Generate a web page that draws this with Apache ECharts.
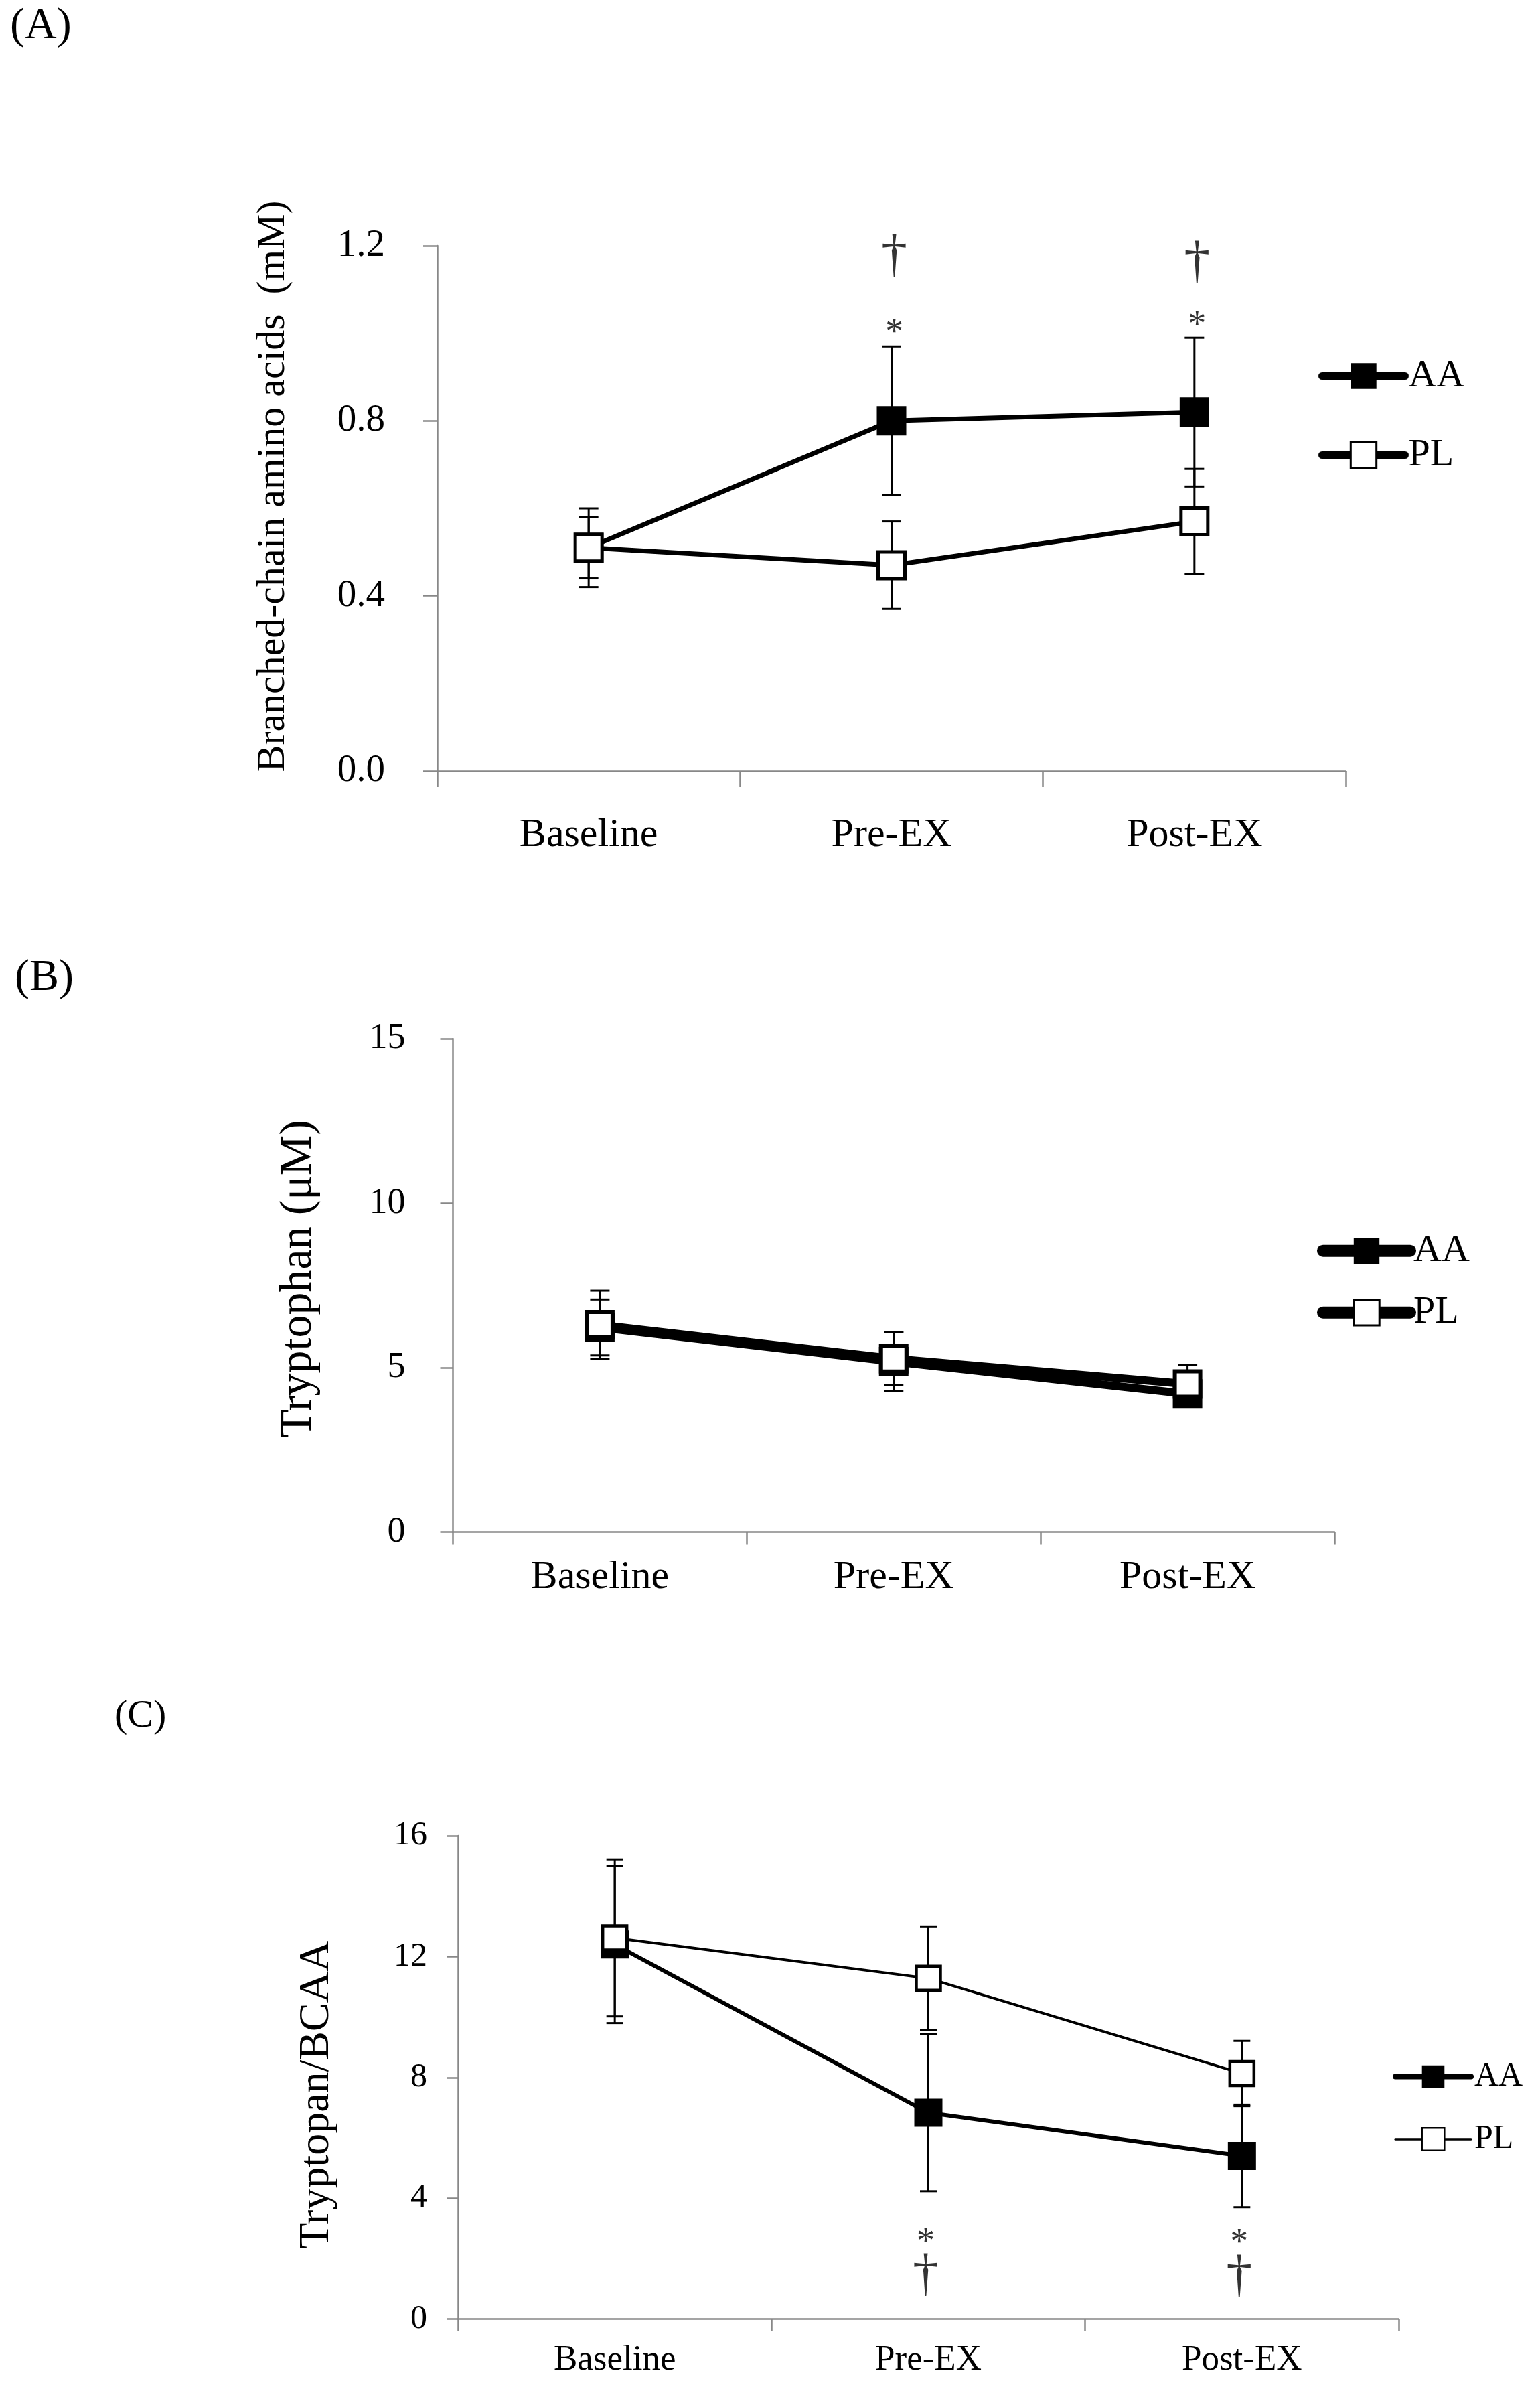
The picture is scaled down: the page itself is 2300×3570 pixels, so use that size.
<!DOCTYPE html>
<html>
<head>
<meta charset="utf-8">
<script src="https://cdn.jsdelivr.net/npm/echarts@6/dist/echarts.min.js"></script>
<style>
  html, body { margin: 0; padding: 0; background: #fff; }
  #chart { width: 2300px; height: 3570px; }
</style>
</head>
<body>
<div id="chart"></div>
<script>
const categories = ['Baseline', 'Pre-EX', 'Post-EX'];

// (A) branched-chain amino acids, mM
const bcaaAA = [0.51, 0.80, 0.82];
const bcaaAAErr = [0.09, 0.17, 0.17];
const bcaaPL = [0.51, 0.47, 0.57];
const bcaaPLErr = [0.07, 0.10, 0.12];

// (B) tryptophan, uM
const trpAA = [6.22, 5.18, 4.20];
const trpAAErr = [0.85, 0.90, 0.30];
const trpPL = [6.30, 5.27, 4.50];
const trpPLErr = [1.04, 0.80, 0.58];

// (C) tryptophan / BCAA
const ratioAA = [12.40, 6.83, 5.40];
const ratioAAErr = [2.60, 2.60, 1.70];
const ratioPL = [12.62, 11.28, 8.13];
const ratioPLErr = [2.60, 1.72, 1.08];

// significance marks: [category, value, symbol]
const sigA = [['Pre-EX', 1.174, '†'], ['Pre-EX', 1.0, '*'], ['Post-EX', 1.159, '†'], ['Post-EX', 1.017, '*']];
const sigC = [['Pre-EX', 2.53, '*'], ['Pre-EX', 1.43, '†'], ['Post-EX', 2.50, '*'], ['Post-EX', 1.37, '†']];

const serif = '"Liberation Serif", "Times New Roman", serif';
const axisGray = '#888888';

function errorBars(idx, means, errs, cap) {
  return {
    type: 'custom',
    xAxisIndex: idx,
    yAxisIndex: idx,
    z: 1,
    silent: true,
    encode: { x: 0, y: [1, 2] },
    data: means.map((m, i) => [i, m - errs[i], m + errs[i]]),
    renderItem: (params, api) => {
      const lo = api.coord([api.value(0), api.value(1)]);
      const hi = api.coord([api.value(0), api.value(2)]);
      const st = { stroke: '#000', lineWidth: 3, fill: null };
      return {
        type: 'group',
        children: [
          { type: 'line', shape: { x1: lo[0], y1: lo[1], x2: hi[0], y2: hi[1] }, style: st },
          { type: 'line', shape: { x1: lo[0] - cap, y1: lo[1], x2: lo[0] + cap, y2: lo[1] }, style: st },
          { type: 'line', shape: { x1: hi[0] - cap, y1: hi[1], x2: hi[0] + cap, y2: hi[1] }, style: st },
        ],
      };
    },
  };
}

function lineSeries(idx, name, values, p) {
  const filled = name === 'AA';
  return {
    name,
    type: 'line',
    xAxisIndex: idx,
    yAxisIndex: idx,
    z: filled ? 2 : 3,
    silent: true,
    symbol: 'rect',
    symbolSize: filled ? p.aaSize : p.plSize,
    data: values,
    lineStyle: { color: '#000', width: filled ? p.aaLine : p.plLine },
    itemStyle: filled
      ? { color: '#000', borderWidth: 0 }
      : { color: '#fff', borderColor: '#000', borderWidth: p.plBorder },
  };
}

function sigSeries(idx, marks, dx) {
  return {
    type: 'scatter',
    xAxisIndex: idx,
    yAxisIndex: idx,
    z: 4,
    silent: true,
    symbolSize: 0,
    data: marks.map(m => ({
      value: [m[0], m[1]],
      name: m[2],
      label: { fontSize: m[2] === '†' ? 78 : 54 },
    })),
    label: {
      show: true,
      position: 'inside',
      formatter: d => d.name,
      color: '#000',
      fontFamily: serif,
      offset: [dx, 0],
    },
  };
}

const panels = [
  {
    grid: { left: 653, right: 290, top: 367, height: 784 },
    y: { min: 0, max: 1.2, interval: 0.4, digits: 1, labelSize: 57, margin: 78, tick: 21 },
    x: { labelSize: 60, margin: 66, tick: 24 },
    name: 'Branched-chain amino acids  (mM)', nameSize: 60, nameGap: 215, namePad: [0, 0, 0, 66],
    aa: bcaaAA, aaErr: bcaaAAErr, pl: bcaaPL, plErr: bcaaPLErr,
    style: { aaSize: 44, plSize: 40, plBorder: 5, aaLine: 7, plLine: 7, cap: 14.5 },
    legend: { left: 1969, top: 532.5, w: 124, h: 48, gap: 60, font: 58, aaW: 11, plW: 11, plBorder: 3 },
  },
  {
    grid: { left: 676.5, right: 307, top: 1551, height: 736.4 },
    y: { min: 0, max: 15, interval: 5, digits: 0, labelSize: 54, margin: 71, tick: 19 },
    x: { labelSize: 60, margin: 38, tick: 19 },
    name: 'Tryptophan (μM)', nameSize: 68, nameGap: 196, namePad: [0, 0, 0, 20],
    aa: trpAA, aaErr: trpAAErr, pl: trpPL, plErr: trpPLErr,
    style: { aaSize: 44, plSize: 38, plBorder: 6, aaLine: 12, plLine: 12, cap: 14.5 },
    legend: { left: 1967, top: 1838.7, w: 130, h: 48, gap: 34, font: 58, aaW: 18, plW: 18, plBorder: 3 },
  },
  {
    grid: { left: 684, right: 211, top: 2741, height: 721.6 },
    y: { min: 0, max: 16, interval: 4, digits: 0, labelSize: 50, margin: 46, tick: 17 },
    x: { labelSize: 53, margin: 35, tick: 18 },
    name: 'Tryptopan/BCAA', nameSize: 64, nameGap: 179, namePad: [0, 52, 0, 0],
    aa: ratioAA, aaErr: ratioAAErr, pl: ratioPL, plErr: ratioPLErr,
    style: { aaSize: 42, plSize: 36, plBorder: 4.5, aaLine: 6, plLine: 4, cap: 12.5 },
    legend: { left: 2080, top: 3075.6, w: 113, h: 42, gap: 43.4, font: 50, aaW: 8, plW: 3.5, plBorder: 2.5 },
  },
];

const option = {
  animation: false,
  backgroundColor: '#fff',
  title: [
    { text: '(A)', left: 10, top: 2 },
    { text: '(B)', left: 17, top: 1423 },
    { text: '(C)', left: 166, top: 2529, fontSize: 58 },
  ].map(t => ({
    text: t.text, left: t.left, top: t.top,
    textStyle: { fontFamily: serif, fontSize: t.fontSize || 66, fontWeight: 'normal', color: '#000' },
  })),
  grid: panels.map(p => p.grid),
  xAxis: panels.map((p, i) => ({
    type: 'category',
    gridIndex: i,
    data: categories,
    boundaryGap: true,
    axisLine: { lineStyle: { color: axisGray, width: 2.5 } },
    axisTick: { show: true, length: p.x.tick, lineStyle: { color: axisGray, width: 2.5 } },
    axisLabel: { color: '#000', fontFamily: serif, fontSize: p.x.labelSize, margin: p.x.margin },
  })),
  yAxis: panels.map((p, i) => ({
    type: 'value',
    gridIndex: i,
    min: p.y.min,
    max: p.y.max,
    interval: p.y.interval,
    name: p.name,
    nameLocation: 'middle',
    nameRotate: 90,
    nameGap: p.nameGap,
    nameTextStyle: { color: '#000', fontFamily: serif, fontSize: p.nameSize, padding: p.namePad },
    splitLine: { show: false },
    axisLine: { show: true, lineStyle: { color: axisGray, width: 2.5 } },
    axisTick: { show: true, length: p.y.tick, lineStyle: { color: axisGray, width: 2.5 } },
    axisLabel: {
      color: '#000', fontFamily: serif, fontSize: p.y.labelSize, margin: p.y.margin,
      formatter: v => v.toFixed(p.y.digits),
    },
  })),
  legend: panels.map(p => ({
    orient: 'vertical',
    left: p.legend.left,
    top: p.legend.top,
    itemWidth: p.legend.w,
    itemHeight: p.legend.h,
    itemGap: p.legend.gap,
    selectedMode: false,
    padding: 0,
    textStyle: { color: '#000', fontFamily: serif, fontSize: p.legend.font },
    data: [
      {
        name: 'AA',
        lineStyle: { color: '#000', width: p.legend.aaW, cap: 'round' },
        itemStyle: { color: '#000', borderWidth: 0 },
      },
      {
        name: 'PL',
        lineStyle: { color: '#000', width: p.legend.plW, cap: 'round' },
        itemStyle: { color: '#fff', borderColor: '#000', borderWidth: p.legend.plBorder },
      },
    ],
  })),
  series: [],
};

panels.forEach((p, i) => {
  option.series.push(errorBars(i, p.aa, p.aaErr, p.style.cap));
  option.series.push(errorBars(i, p.pl, p.plErr, p.style.cap));
  option.series.push(lineSeries(i, 'AA', p.aa, p.style));
  option.series.push(lineSeries(i, 'PL', p.pl, p.style));
});
option.series.push(sigSeries(0, sigA, 4));
option.series.push(sigSeries(2, sigC, -4));

const chart = echarts.init(document.getElementById('chart'), null, { renderer: 'canvas' });
chart.setOption(option);
</script>
</body>
</html>
